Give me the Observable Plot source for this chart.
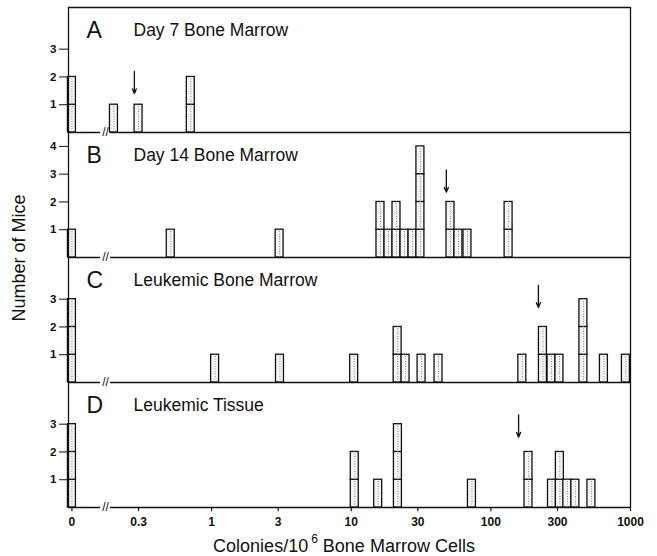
<!DOCTYPE html>
<html>
<head>
<meta charset="utf-8">
<script src="https://cdn.jsdelivr.net/npm/d3@7"></script>
<script src="https://cdn.jsdelivr.net/npm/@observablehq/plot@0.6"></script>
<style>
  body { margin: 0; background: #fff; }
  #chart { position: relative; width: 657px; height: 556px; font-family: "Liberation Sans", Arial, sans-serif; color: #111; }
  .ytitle { position: absolute; left: 19px; top: 258px; transform: translate(-50%, -50%) rotate(-90deg); font-size: 18px; white-space: nowrap; }
  .xtitle { position: absolute; left: 344px; top: 545px; transform: translate(-50%, -50%); font-size: 18px; white-space: nowrap; }
  .xtitle sup { font-size: 12px; margin-left: 3px; position: relative; top: -2px; }
</style>
</head>
<body>
<div id="chart">
  <div id="panels"></div>
  <div class="ytitle">Number of Mice</div>
  <div class="xtitle">Colonies/10<sup>6</sup> Bone Marrow Cells</div>
</div>
<script>
// ---- data ----
const letters = ["A", "B", "C", "D"];
const titles = ["Day 7 Bone Marrow", "Day 14 Bone Marrow", "Leukemic Bone Marrow", "Leukemic Tissue"];

const coloniesA = [0, 0.2, 0.3, 0.71];
const miceA     = [2, 1, 1, 2];

const coloniesB = [0, 0.51, 3.07, 16.2, 18.5, 21.1, 24.1, 27.5, 31.3, 51.4, 58.6, 68, 134];
const miceB     = [1, 1, 1, 2, 1, 2, 1, 1, 4, 2, 1, 1, 2];

const coloniesC = [0, 1.06, 3.09, 10.5, 21.5, 24.5, 31.9, 42.2, 168, 236, 272, 310, 460, 645, 927];
const miceC     = [3, 1, 1, 1, 2, 1, 1, 1, 1, 2, 1, 1, 3, 1, 1];

const coloniesD = [0, 10.6, 15.6, 21.6, 73.2, 186, 274, 312, 353, 403, 525];
const miceD     = [3, 2, 1, 3, 1, 2, 1, 2, 1, 1, 1];

const medians   = [0.28, 48, 219, 158];     // arrow positions
const arrowTips = [1.4, 2.35, 2.7, 2.53];   // arrow tip heights

const yTicks = [[1, 2, 3], [1, 2, 3, 4], [1, 2, 3], [1, 2, 3]];
const xTicks = [0, 0.3, 1, 3, 10, 30, 100, 300, 1000];

// ---- layout constants ----
const ZERO = 0.1;                 // where "0" sits on the broken log axis
const DOMAIN = [0.0945, 1000];
const YMAX = 4.5;
const HALF = 1.068;               // half-width factor of a bin box (log units)
const BREAK = [0.1605, 0.189];    // axis break gap
const BREAK_MID = 0.1742;
const TICK_LEN = 0.15;            // x tick length below the baseline (y units)

const allColonies = [coloniesA, coloniesB, coloniesC, coloniesD];
const allMice = [miceA, miceB, miceC, miceD];
const xpos = v => v === 0 ? ZERO : v;
const INK = "#111";

const container = document.getElementById("panels");

letters.forEach((letter, i) => {
  const cols = allColonies[i], mice = allMice[i];
  const cells = [];
  cols.forEach((v, j) => { for (let k = 0; k < mice[j]; k++) cells.push({x: xpos(v), k}); });
  const bins = cols.map((v, j) => ({x: xpos(v), n: mice[j]}));
  const isFirst = i === 0, isLast = i === 3;

  const marks = [
    Plot.rect(cells, {x1: d => d.x / HALF, x2: d => d.x * HALF, y1: "k", y2: d => d.k + 1,
      fill: "#f5f5f5", stroke: INK, strokeWidth: 1.3}),
    Plot.ruleX(bins, {x: "x", y1: 0, y2: "n", stroke: "#8a8a8a", strokeWidth: 1, strokeDasharray: "1 1.5"}),
    Plot.ruleX(DOMAIN, {stroke: INK, strokeWidth: 1.3}),
    Plot.ruleY([0], {x1: DOMAIN[0], x2: BREAK[0], stroke: INK, strokeWidth: 1.3}),
    Plot.ruleY([0], {x1: BREAK[1], x2: DOMAIN[1], stroke: INK, strokeWidth: 1.3}),
    Plot.text(["//"], {x: BREAK_MID, y: 0, text: d => d, fontSize: 12, lineAnchor: "middle", fill: INK}),
    Plot.arrow([{x: medians[i], tip: arrowTips[i]}], {x1: "x", x2: "x", y1: d => d.tip + 0.8, y2: "tip",
      stroke: INK, strokeWidth: 1.3, headLength: 6, headAngle: 45}),
    Plot.text([letter], {text: d => d, frameAnchor: "top-left", dx: 18, dy: 23, fontSize: 23,
      textAnchor: "start", lineAnchor: "middle", fill: INK}),
    Plot.text([titles[i]], {text: d => d, frameAnchor: "top-left", dx: 65, dy: 23, fontSize: 17.5,
      textAnchor: "start", lineAnchor: "middle", fill: INK}),
    // y ticks and labels
    Plot.axisY(yTicks[i], {tickSize: 9, tickPadding: 3, tickFormat: d => String(d), label: null,
      fontWeight: "bold", fontSize: 11.5, stroke: INK, fill: INK})
  ];
  if (isFirst) marks.push(Plot.ruleY([YMAX], {stroke: INK, strokeWidth: 1.3}));
  if (isLast) marks.push(
    Plot.ruleX(xTicks, {x: xpos, y1: 0, y2: -TICK_LEN, stroke: INK, strokeWidth: 1.2}),
    Plot.text(xTicks, {x: xpos, y: 0, dy: 15, text: d => String(d), lineAnchor: "middle",
      fontWeight: "bold", fontSize: 12, fill: INK})
  );

  const chart = Plot.plot({
    width: 657,
    height: isFirst ? 132 : isLast ? 174 : 125,
    marginTop: isFirst ? 7 : 0,
    marginBottom: isLast ? 49 : 0,
    marginLeft: 68,
    marginRight: 27,
    style: {fontFamily: "'Liberation Sans', Arial, sans-serif", fontSize: "12px", overflow: "visible", display: "block", color: INK},
    x: {type: "log", domain: DOMAIN, axis: null},
    y: {domain: [0, YMAX], axis: null},
    marks
  });
  container.appendChild(chart);
});
</script>
</body>
</html>
